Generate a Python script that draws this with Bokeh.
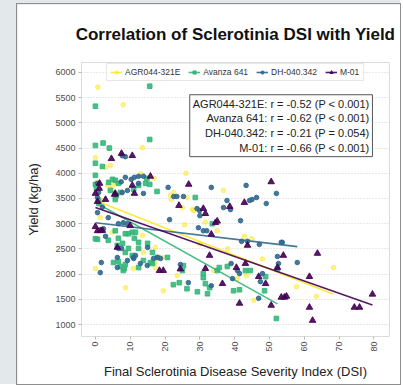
import math
from bokeh.plotting import figure
from bokeh.models import (ColumnDataSource, Legend, LegendItem, Label, Range1d,
                          FixedTicker, InlineStyleSheet)
from bokeh.layouts import column
from bokeh.embed import file_html
from bokeh.resources import INLINE

# ---------------- data ----------------
chart_title = "Correlation of Sclerotinia DSI with Yield"
series_names = ["AGR044-321E", "Avanza 641", "DH-040.342", "M-01"]
series_colors = ["#FDE725", "#35B779", "#31688E", "#440154"]
series_markers = ["circle", "square", "circle", "triangle"]

agr_x = [0.7, 8, 13.5, 0, 2.9, 4.3, 0.5, 3.5, 5.7, 4.9, 13, 16.8, 26, 22.5, 21.6, 21.8, 25, 26.3,
         28.3, 27.9, 36.8, 31.6, 25.6, 35, 42.8, 1.4, 4.9, 13.5, 13.8, 17.2, 19.2, 0, 8.6, 10.9,
         17.2, 17, 19.5, 23.5, 34, 40.8, 43.4, 45.5, 57.8, 63.5, 68.4, 2, 48, 38, 30, 45]
agr_y = [5709, 5359, 4510, 4310, 4120, 4155, 3820, 3760, 3820, 3740, 3990, 3900, 4000, 3620, 3560,
         3480, 3320, 3520, 3260, 3280, 3660, 3030, 2980, 2860, 2750, 3120, 2830, 2770, 2430, 2530,
         2330, 2110, 1730, 2110, 2130, 2230, 1670, 1970, 2070, 1910, 1970, 1480, 1750, 1560, 2130,
         3450, 2300, 2500, 2600, 2700]

ava_x = [0, 15.6, 15.6, 0, 2.2, 4, 0, 2, 0, 0, 0.3, 0.9, 1, 3.8, 4.9, 5.7, 6.6, 4.3, 6, 5.7, 7.2,
         11, 12.4, 14.4, 14.8, 15.6, 17.7, 28.7, 33.6, 0, 0.6, 3.7, 5.7, 6.6, 6.3, 7.8, 8.6, 9.5,
         10.6, 11.5, 11.2, 12.4, 9.5, 8.6, 10.6, 12.4, 15, 16.4, 17.8, 6.6, 8.6, 8.3, 12.4, 15.8,
         5.2, 7.2, 8, 13.8, 16.4, 20.7, 22.4, 24.1, 25, 25.3, 26.3, 29.3, 31, 31, 31.6, 32.2, 32.8,
         35, 35.6, 37.9, 39.7, 41.4, 43.1, 44.5, 48.6, 48.9, 52, 52.3]
ava_y = [5331, 5728, 4670, 4552, 4600, 4500, 4200, 4135, 3960, 3780, 3700, 3460, 3400, 3820, 3880,
         3860, 3800, 3660, 3560, 3480, 3620, 3680, 3760, 3800, 3900, 3780, 3640, 3520, 3000, 2700,
         2690, 2670, 2860, 2710, 2570, 2610, 2800, 2800, 2830, 2830, 2710, 2630, 2510, 2430, 2370,
         2510, 2610, 2430, 2330, 2250, 2190, 2110, 2130, 2230, 2230, 2150, 2070, 2270, 2210, 2330,
         1790, 1830, 2070, 2170, 1710, 1650, 2010, 1930, 1810, 1610, 1730, 2070, 2130, 2150, 1670,
         1690, 2070, 2070, 1670, 1950, 1120, 2100]

dh_x = [8.6, 7.7, 0.6, 0.9, 0.6, 7.4, 8.6, 10.3, 11.2, 12.4, 13.8, 12.4, 13.8, 7.7, 9.2, 20.9,
        22.5, 23.4, 25.3, 29.2, 29.9, 30, 33.3, 38.8, 36.8, 37.8, 43.3, 52, 44.3, 45, 46.3, 49.1,
        41.7, 21.3, 2, 0.6, 2.3, 3.7, 6.6, 8, 9.2, 2.9, 6.6, 7.5, 11.5, 11, 15, 16.7, 18.7, 1.7,
        1.4, 6.3, 9.2, 14.9, 6.3, 10.9, 12.9, 17.8, 24.4, 26.7, 33.3, 39, 39.4, 40.8, 41.4, 46.9,
        47.4, 48, 52.3, 52.6, 58, 53.7, 29.6, 31, 32, 42, 43.7, 47.1, 53.4]
dh_y = [4330, 4350, 3800, 3620, 3520, 3830, 3920, 3880, 3920, 3940, 3940, 3800, 3600, 3620, 3660,
        3720, 3540, 3540, 3540, 3300, 3260, 3160, 3720, 3280, 3320, 3460, 3760, 3600, 3460, 3480,
        3520, 3400, 3060, 3080, 3330, 3220, 2900, 3120, 3000, 3020, 3000, 2750, 2510, 2510, 2370,
        2310, 2530, 2310, 2310, 2230, 2030, 2130, 2270, 2170, 2330, 2330, 2210, 2330, 2190, 1830,
        1770, 2210, 1910, 2070, 2010, 1520, 1850, 2010, 2350, 2210, 2230, 2630, 2920, 2860, 2860,
        2650, 2650, 2590, 2630]

m01_x = [7.5, 10.6, 4.6, 1.2, 1.1, 0, 0.6, 2.9, 5.5, 5.7, 10.6, 11.2, 15.8, 26.8, 24, 31, 31.6,
         35, 38.6, 42.8, 50.5, 0, 0.6, 1.4, 2, 10, 6.3, 18.4, 19.5, 24.4, 31.6, 32.8, 33.3, 36.5,
         40.5, 41.4, 43.1, 43.7, 46.9, 48.9, 50.5, 52.3, 53.4, 54.3, 54.9, 54, 61.5, 61.5, 62.4,
         63.8, 74.4, 75.9, 79.6, 34.5]
m01_y = [4393, 4350, 4290, 3800, 3700, 3600, 3440, 3480, 3580, 3600, 3760, 3600, 3940, 3780, 3360,
         3300, 3200, 3050, 3340, 3420, 3830, 2940, 2860, 2860, 2865, 2960, 2530, 2070, 2070, 2100,
         2110, 2370, 2790, 1810, 2130, 1420, 2210, 2570, 1950, 1810, 1380, 2130, 1540, 1540, 1560,
         2370, 1950, 1340, 1080, 2410, 1340, 1340, 1600, 3020]

series_x = [agr_x, ava_x, dh_x, m01_x]
series_y = [agr_y, ava_y, dh_y, m01_y]

# fitted regression lines (endpoints)
fit_x0 = [0, 0, 0, 0]
fit_x1 = [68.4, 52.3, 58, 79.6]
fit_y0 = [3460, 3420, 3020, 3320]
fit_y1 = [1600, 1410, 2545, 1385]

stats_lines = ["AGR044-321E: r = -0.52 (P < 0.001)",
               "Avanza 641: r = -0.62 (P < 0.001)",
               "DH-040.342: r = -0.21 (P = 0.054)",
               "M-01: r = -0.66 (P < 0.001)"]

y_ticks = [1000, 1500, 2000, 2500, 3000, 3500, 4000, 4500, 5000, 5500, 6000]
x_ticks = [0, 10, 20, 30, 40, 50, 60, 70, 80]

FONT = "Liberation Sans"

p = figure(width=383, height=380, output_backend="svg", toolbar_location=None,
           x_range=Range1d(-4.0, 84.5), y_range=Range1d(762, 6198),
           title=chart_title,
           min_border_left=64, min_border_right=11, min_border_top=58, min_border_bottom=48)
p.margin = (4, 0, 0, 17)
p.background_fill_color = "white"
p.border_fill_color = "white"
p.outline_line_color = "#dcdcdc"
p.outline_line_width = 1
p.stylesheets = [InlineStyleSheet(css=":host { outline: 1.5px solid #8e8e8e; }")]

p.title.text_font = FONT
p.title.text_font_size = "17px"
p.title.text_font_style = "bold"
p.title.text_color = "#111111"
p.title.align = "center"
p.title.standoff = 37

# grid
p.xgrid.grid_line_color = None
p.ygrid.grid_line_color = "#d0d0d0"
p.ygrid.grid_line_dash = "1 2"
p.ygrid.grid_line_width = 1

for ax in (p.xaxis[0], p.yaxis[0]):
    ax.axis_line_color = None
    ax.major_tick_line_color = "#bdbdbd"
    ax.major_tick_out = 3
    ax.major_tick_in = 0
    ax.minor_tick_line_color = None
    ax.major_label_text_font = FONT
    ax.major_label_text_font_size = "9px"
    ax.major_label_text_color = "#4d4d4d"
    ax.axis_label_text_font = FONT
    ax.axis_label_text_font_size = "13px"
    ax.axis_label_text_font_style = "normal"
    ax.axis_label_text_color = "#222222"

p.yaxis.ticker = FixedTicker(ticks=y_ticks)
p.xaxis.ticker = FixedTicker(ticks=x_ticks)
p.xaxis.major_label_orientation = math.pi / 2
p.yaxis.axis_label = "Yield (kg/ha)"
p.xaxis.axis_label = "Final Sclerotinia Disease Severity Index (DSI)"
p.yaxis.axis_label_standoff = 11
p.xaxis.axis_label_standoff = 9
p.yaxis.major_label_standoff = 3
p.xaxis.major_label_standoff = 2

items = []
for i in range(4):
    src = ColumnDataSource(dict(x=series_x[i], y=series_y[i]))
    alpha = 0.55 if i == 0 else 0.9
    size = 6.5 if series_markers[i] == "triangle" else 4.6
    sr = p.scatter("x", "y", source=src, marker=series_markers[i], size=size,
                   fill_color=series_colors[i], line_color=series_colors[i],
                   fill_alpha=alpha, line_alpha=alpha)
    fsrc = ColumnDataSource(dict(x=[fit_x0[i], fit_x1[i]], y=[fit_y0[i], fit_y1[i]]))
    lr = p.line("x", "y", source=fsrc, line_color=series_colors[i], line_width=1.6,
                line_alpha=0.9)
    items.append(LegendItem(label=series_names[i], renderers=[lr, sr]))

legend = Legend(items=items, orientation="horizontal", location="top_center",
                label_text_font=FONT, label_text_font_size="8.5px", label_text_color="#333333",
                glyph_width=12, glyph_height=8, label_standoff=3, spacing=8,
                padding=3, margin=1, border_line_color="#cfcfcf",
                background_fill_color="white", background_fill_alpha=1)
p.add_layout(legend)

stats = Label(x=79.6, y=4330, x_units="data", y_units="data",
              text="\n".join(stats_lines), text_align="right", text_baseline="bottom",
              text_font=FONT, text_font_size="11px", text_color="#222222",
              text_line_height=1.22,
              border_line_color="#555555", border_line_width=1,
              background_fill_color="white", background_fill_alpha=1,
              padding=3)
p.add_layout(stats)

page = column(p, width=400, height=384,
              stylesheets=[InlineStyleSheet(css=":host { background-color: #e3e8eb; }")])

open("out.html", "w").write(file_html(page, INLINE))
